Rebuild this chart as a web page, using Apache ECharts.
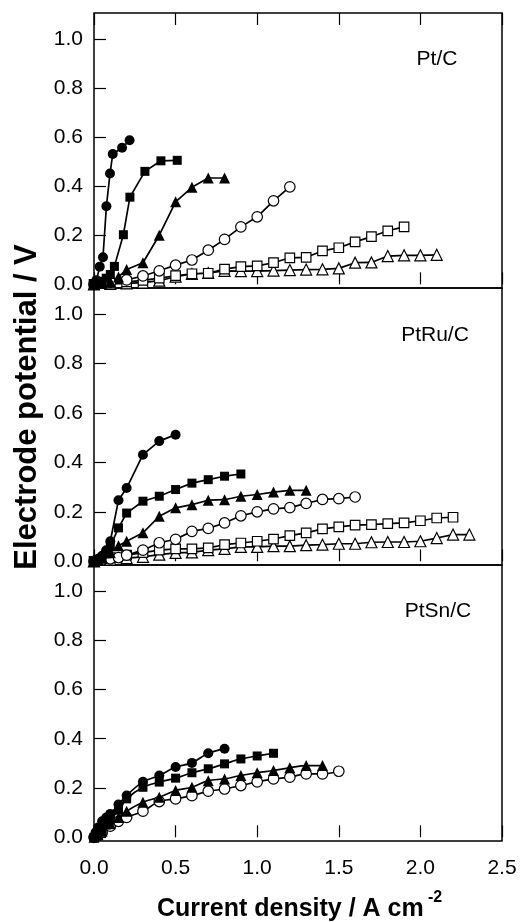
<!DOCTYPE html>
<html>
<head>
<meta charset="utf-8">
<script src="https://cdn.jsdelivr.net/npm/echarts@6/dist/echarts.min.js"></script>
<style>
html,body{margin:0;padding:0;background:#fff;}
#chart{width:528px;height:922px;}
</style>
</head>
<body>
<div id="chart"></div>
<script>
// ---- tick labels ----
const xTickValues = [0, 0.5, 1.0, 1.5, 2.0, 2.5];
const yTickValues = [0, 0.2, 0.4, 0.6, 0.8, 1.0];
const panelLabels = ['Pt/C', 'PtRu/C', 'PtSn/C'];

// ---- Pt/C ----
const ptFcX = [0, 0.015, 0.035, 0.055, 0.076, 0.098, 0.115, 0.172, 0.218];
const ptFcY = [0, 0.017, 0.072, 0.11, 0.318, 0.451, 0.531, 0.556, 0.587];
const ptFsX = [0, 0.025, 0.05, 0.075, 0.1, 0.125, 0.18, 0.22, 0.312, 0.41, 0.51];
const ptFsY = [0, 0.004, 0.012, 0.025, 0.04, 0.073, 0.202, 0.355, 0.46, 0.503, 0.505];
const ptFtX = [0, 0.05, 0.1, 0.15, 0.2, 0.3, 0.4, 0.5, 0.6, 0.7, 0.8];
const ptFtY = [0, 0.004, 0.01, 0.03, 0.06, 0.088, 0.2, 0.336, 0.395, 0.433, 0.433];
const ptOcX = [0, 0.1, 0.2, 0.3, 0.4, 0.5, 0.6, 0.7, 0.8, 0.9, 1.0, 1.1, 1.2];
const ptOcY = [0, 0.008, 0.018, 0.034, 0.055, 0.078, 0.099, 0.139, 0.183, 0.234, 0.275, 0.34, 0.397];
const ptOsX = [0, 0.1, 0.2, 0.3, 0.4, 0.5, 0.6, 0.7, 0.8, 0.9, 1.0, 1.1, 1.2, 1.3, 1.4, 1.5, 1.6, 1.7, 1.8, 1.9];
const ptOsY = [0, 0.005, 0.01, 0.016, 0.025, 0.035, 0.043, 0.045, 0.062, 0.072, 0.075, 0.088, 0.108, 0.11, 0.136, 0.149, 0.173, 0.194, 0.218, 0.234];
const ptOtX = [0, 0.1, 0.2, 0.3, 0.4, 0.5, 0.6, 0.7, 0.8, 0.9, 1.0, 1.1, 1.2, 1.3, 1.4, 1.5, 1.6, 1.7, 1.8, 1.9, 2.0, 2.1];
const ptOtY = [0, 0.002, 0.004, 0.007, 0.015, 0.031, 0.042, 0.046, 0.055, 0.054, 0.054, 0.056, 0.058, 0.06, 0.061, 0.065, 0.088, 0.089, 0.115, 0.118, 0.118, 0.12];

// ---- PtRu/C ----
const ruFcX = [0, 0.025, 0.05, 0.075, 0.1, 0.15, 0.2, 0.3, 0.4, 0.5];
const ruFcY = [0, 0.01, 0.022, 0.045, 0.081, 0.247, 0.296, 0.431, 0.486, 0.512];
const ruFsX = [0, 0.025, 0.05, 0.075, 0.1, 0.15, 0.2, 0.3, 0.4, 0.5, 0.6, 0.7, 0.8, 0.9];
const ruFsY = [0, 0.006, 0.014, 0.03, 0.06, 0.135, 0.195, 0.243, 0.263, 0.29, 0.316, 0.33, 0.344, 0.353];
const ruFtX = [0, 0.025, 0.05, 0.1, 0.15, 0.2, 0.3, 0.4, 0.5, 0.6, 0.7, 0.8, 0.9, 1.0, 1.1, 1.2, 1.3];
const ruFtY = [0, 0.005, 0.012, 0.035, 0.063, 0.081, 0.115, 0.182, 0.216, 0.229, 0.247, 0.249, 0.263, 0.27, 0.28, 0.287, 0.287];
const ruOcX = [0, 0.05, 0.1, 0.15, 0.2, 0.3, 0.4, 0.5, 0.6, 0.7, 0.8, 0.9, 1.0, 1.1, 1.2, 1.3, 1.4, 1.5, 1.6];
const ruOcY = [0, 0.005, 0.01, 0.015, 0.025, 0.045, 0.075, 0.089, 0.121, 0.133, 0.155, 0.184, 0.2, 0.212, 0.217, 0.234, 0.25, 0.253, 0.26];
const ruOsX = [0, 0.1, 0.2, 0.3, 0.4, 0.5, 0.6, 0.7, 0.8, 0.9, 1.0, 1.1, 1.2, 1.3, 1.4, 1.5, 1.6, 1.7, 1.8, 1.9, 2.0, 2.1, 2.2];
const ruOsY = [0, 0.015, 0.025, 0.035, 0.045, 0.05, 0.05, 0.054, 0.067, 0.074, 0.081, 0.09, 0.104, 0.115, 0.131, 0.139, 0.146, 0.148, 0.152, 0.155, 0.164, 0.175, 0.178];
const ruOtX = [0, 0.1, 0.2, 0.3, 0.4, 0.5, 0.6, 0.7, 0.8, 0.9, 1.0, 1.1, 1.2, 1.3, 1.4, 1.5, 1.6, 1.7, 1.8, 1.9, 2.0, 2.1, 2.2, 2.3];
const ruOtY = [0, 0.007, 0.013, 0.018, 0.027, 0.034, 0.036, 0.045, 0.05, 0.058, 0.058, 0.061, 0.061, 0.065, 0.067, 0.071, 0.071, 0.077, 0.078, 0.078, 0.081, 0.094, 0.108, 0.108];

// ---- PtSn/C ----
const snFcX = [0, 0.01, 0.025, 0.05, 0.075, 0.1, 0.15, 0.2, 0.3, 0.4, 0.5, 0.6, 0.7, 0.8];
const snFcY = [0, 0.02, 0.04, 0.065, 0.08, 0.095, 0.133, 0.17, 0.225, 0.251, 0.285, 0.302, 0.341, 0.359];
const snFsX = [0, 0.025, 0.05, 0.075, 0.1, 0.15, 0.2, 0.3, 0.4, 0.5, 0.6, 0.7, 0.8, 0.9, 1.0, 1.1];
const snFsY = [0, 0.01, 0.03, 0.05, 0.07, 0.11, 0.156, 0.203, 0.224, 0.24, 0.262, 0.278, 0.298, 0.318, 0.33, 0.341];
const snFtX = [0, 0.025, 0.05, 0.1, 0.15, 0.2, 0.3, 0.4, 0.5, 0.6, 0.7, 0.8, 0.9, 1.0, 1.1, 1.2, 1.3, 1.4];
const snFtY = [0, 0.01, 0.025, 0.055, 0.08, 0.106, 0.142, 0.163, 0.19, 0.203, 0.23, 0.237, 0.251, 0.262, 0.271, 0.282, 0.291, 0.291];
const snOcX = [0, 0.025, 0.05, 0.1, 0.15, 0.2, 0.3, 0.4, 0.5, 0.6, 0.7, 0.8, 0.9, 1.0, 1.1, 1.2, 1.3, 1.4, 1.5];
const snOcY = [0, 0.008, 0.02, 0.045, 0.065, 0.081, 0.106, 0.145, 0.156, 0.169, 0.187, 0.196, 0.21, 0.225, 0.237, 0.244, 0.257, 0.257, 0.268];

function pairs(xs, ys) { return xs.map((x, i) => [x, ys[i]]); }

const markerStyles = {
  fc: { symbol: 'circle', size: 10, open: false },
  fs: { symbol: 'rect', size: 9, open: false },
  ft: { symbol: 'triangle', size: 11, open: false },
  oc: { symbol: 'circle', size: 10.5, open: true },
  os: { symbol: 'rect', size: 9.5, open: true },
  ot: { symbol: 'triangle', size: 11, open: true }
};

function mkSeries(panel, kind, xs, ys, smooth) {
  const m = markerStyles[kind];
  return {
    type: 'line',
    xAxisIndex: panel,
    yAxisIndex: panel,
    data: pairs(xs, ys),
    symbol: m.symbol,
    symbolSize: m.size,
    showAllSymbol: true,
    smooth: smooth ? 0.35 : false,
    clip: false,
    animation: false,
    lineStyle: { color: '#000', width: 1.7 },
    itemStyle: m.open ? { color: '#fff', borderColor: '#000', borderWidth: 1.2 } : { color: '#000', borderColor: '#000', borderWidth: 0 },
    emphasis: { disabled: true }
  };
}

const L = 94, W = 408;
const grids = [
  { left: L, width: W, top: 13, height: 275 },
  { left: L, width: W, top: 288, height: 277 },
  { left: L, width: W, top: 565, height: 276 }
].map(g => Object.assign(g, { show: true, borderColor: '#000', borderWidth: 1.5, backgroundColor: 'transparent', containLabel: false }));

const tickFont = 'Liberation Sans';

function xAx(i, showLabel, pos) {
  return {
    type: 'value', gridIndex: i, min: 0, max: 2.5, interval: 0.5,
    position: pos || 'bottom',
    axisLine: { show: false },
    axisTick: { show: true, inside: true, length: 12, lineStyle: { color: '#000', width: 1.2 } },
    axisLabel: { show: showLabel, margin: 17, color: '#000', fontSize: 21, fontFamily: tickFont,
      formatter: v => v.toFixed(1) },
    splitLine: { show: false }
  };
}
function yAx(i) {
  return {
    type: 'value', gridIndex: i, min: -0.015, max: 1.105,
    axisLine: { show: false },
    axisTick: { show: true, inside: true, length: 12, customValues: yTickValues, lineStyle: { color: '#000', width: 1.2 } },
    axisLabel: { show: true, margin: 11, color: '#000', fontSize: 21, fontFamily: tickFont, customValues: yTickValues,
      formatter: v => Number(v).toFixed(1) },
    splitLine: { show: false }
  };
}

const series = [
  mkSeries(0, 'ot', ptOtX, ptOtY, false),
  mkSeries(0, 'os', ptOsX, ptOsY, false),
  mkSeries(0, 'oc', ptOcX, ptOcY, false),
  mkSeries(0, 'ft', ptFtX, ptFtY, false),
  mkSeries(0, 'fs', ptFsX, ptFsY, false),
  mkSeries(0, 'fc', ptFcX, ptFcY, false),
  mkSeries(1, 'ot', ruOtX, ruOtY, false),
  mkSeries(1, 'os', ruOsX, ruOsY, false),
  mkSeries(1, 'oc', ruOcX, ruOcY, false),
  mkSeries(1, 'ft', ruFtX, ruFtY, false),
  mkSeries(1, 'fs', ruFsX, ruFsY, false),
  mkSeries(1, 'fc', ruFcX, ruFcY, false),
  mkSeries(2, 'oc', snOcX, snOcY, true),
  mkSeries(2, 'ft', snFtX, snFtY, true),
  mkSeries(2, 'fs', snFsX, snFsY, true),
  mkSeries(2, 'fc', snFcX, snFcY, true)
];

const topTickAxis = xAx(0, false, 'top');

const panelLabelPos = [[437, 59], [435, 335], [438, 611]];

const option = {
  backgroundColor: '#fff',
  animation: false,
  grid: grids,
  xAxis: [xAx(0, false), xAx(1, false), xAx(2, true), topTickAxis],
  yAxis: [yAx(0), yAx(1), yAx(2)],
  series: series,
  graphic: [
    ...panelLabels.map((t, i) => ({
      type: 'text', x: panelLabelPos[i][0], y: panelLabelPos[i][1],
      style: { text: t, font: '21px "Liberation Sans"', fill: '#000', align: 'center', verticalAlign: 'middle' }
    })),
    {
      type: 'text', x: 27, y: 407, rotation: Math.PI / 2,
      style: { text: 'Electrode potential / V', font: 'bold 31px "Liberation Sans"', fill: '#000', align: 'center', verticalAlign: 'middle' }
    },
    {
      type: 'text', x: 157, y: 909,
      style: { text: 'Current density / A cm', font: 'bold 25px "Liberation Sans"', fill: '#000', align: 'left', verticalAlign: 'middle' }
    },
    {
      type: 'text', x: 428, y: 898,
      style: { text: '-2', font: 'bold 16px "Liberation Sans"', fill: '#000', align: 'left', verticalAlign: 'middle' }
    }
  ]
};

const chart = echarts.init(document.getElementById('chart'), null, { renderer: 'canvas' });
chart.setOption(option);
</script>
</body>
</html>
